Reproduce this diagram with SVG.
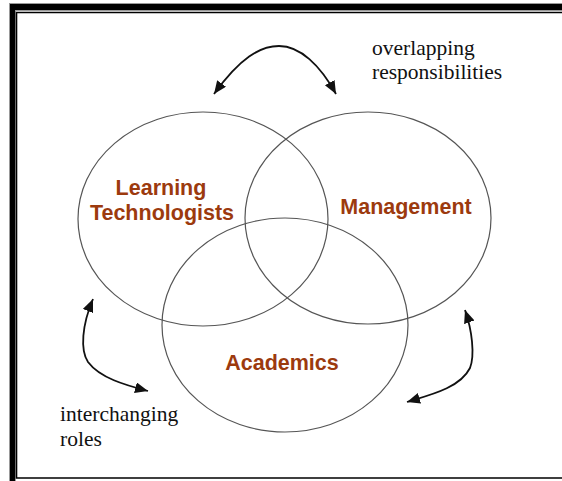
<svg xmlns="http://www.w3.org/2000/svg" width="562" height="481" viewBox="0 0 562 481">
<defs>
<style>
.ring{fill:none;stroke:#555;stroke-width:1.2}
.lbl{font-family:"Liberation Sans",Arial,sans-serif;font-weight:bold;font-size:21.5px;fill:#9C3A0E;text-anchor:middle}
.note{font-family:"Liberation Serif","Times New Roman",serif;font-size:21.5px;fill:#111}
.arr{fill:none;stroke:#111;stroke-width:1.8;marker-start:url(#ah);marker-end:url(#ah)}
</style>
<marker id="ah" markerUnits="userSpaceOnUse" markerWidth="14" markerHeight="12" refX="13" refY="5.5" orient="auto-start-reverse">
<path d="M0,0 L13,5.5 L0,11 z" fill="#111"/>
</marker>
</defs>
<rect width="562" height="481" fill="#fff"/>
<g id="frame">
<rect x="9" y="3" width="560" height="8" fill="#999"/>
<rect x="9" y="3" width="7" height="480" fill="#999"/>
<rect x="10" y="4" width="560" height="6" fill="#000"/>
<rect x="10" y="4" width="5" height="480" fill="#000"/>
<path d="M562,12.5 H16.5 V478 H562" fill="none" stroke="#000" stroke-width="1.6"/>
</g>
<g id="learning-technologists">
<ellipse class="ring" cx="203" cy="219" rx="125" ry="107"/>
<text class="lbl" x="161" y="195">Learning</text>
<text class="lbl" x="162" y="220">Technologists</text>
</g>
<g id="management">
<ellipse class="ring" cx="368" cy="218" rx="123" ry="106"/>
<text class="lbl" x="406" y="214">Management</text>
</g>
<g id="academics">
<ellipse class="ring" cx="285" cy="325" rx="123" ry="107"/>
<text class="lbl" x="282" y="370">Academics</text>
</g>
<g id="connectors">
<path class="arr" d="M214,94 C240,58 260,46 279,46 C300,46 320,65 336,94"/>
<path class="arr" d="M93,299 C82,325 80,350 88,362 C100,378 125,385 148,391"/>
<path class="arr" d="M465,310 C472,330 475,355 470,368 C460,388 430,395 407,402"/>
</g>
<g id="notes">
<text class="note" x="372" y="55">overlapping</text>
<text class="note" x="372" y="79">responsibilities</text>
<text class="note" x="60" y="421">interchanging</text>
<text class="note" x="60" y="446">roles</text>
</g>
</svg>
